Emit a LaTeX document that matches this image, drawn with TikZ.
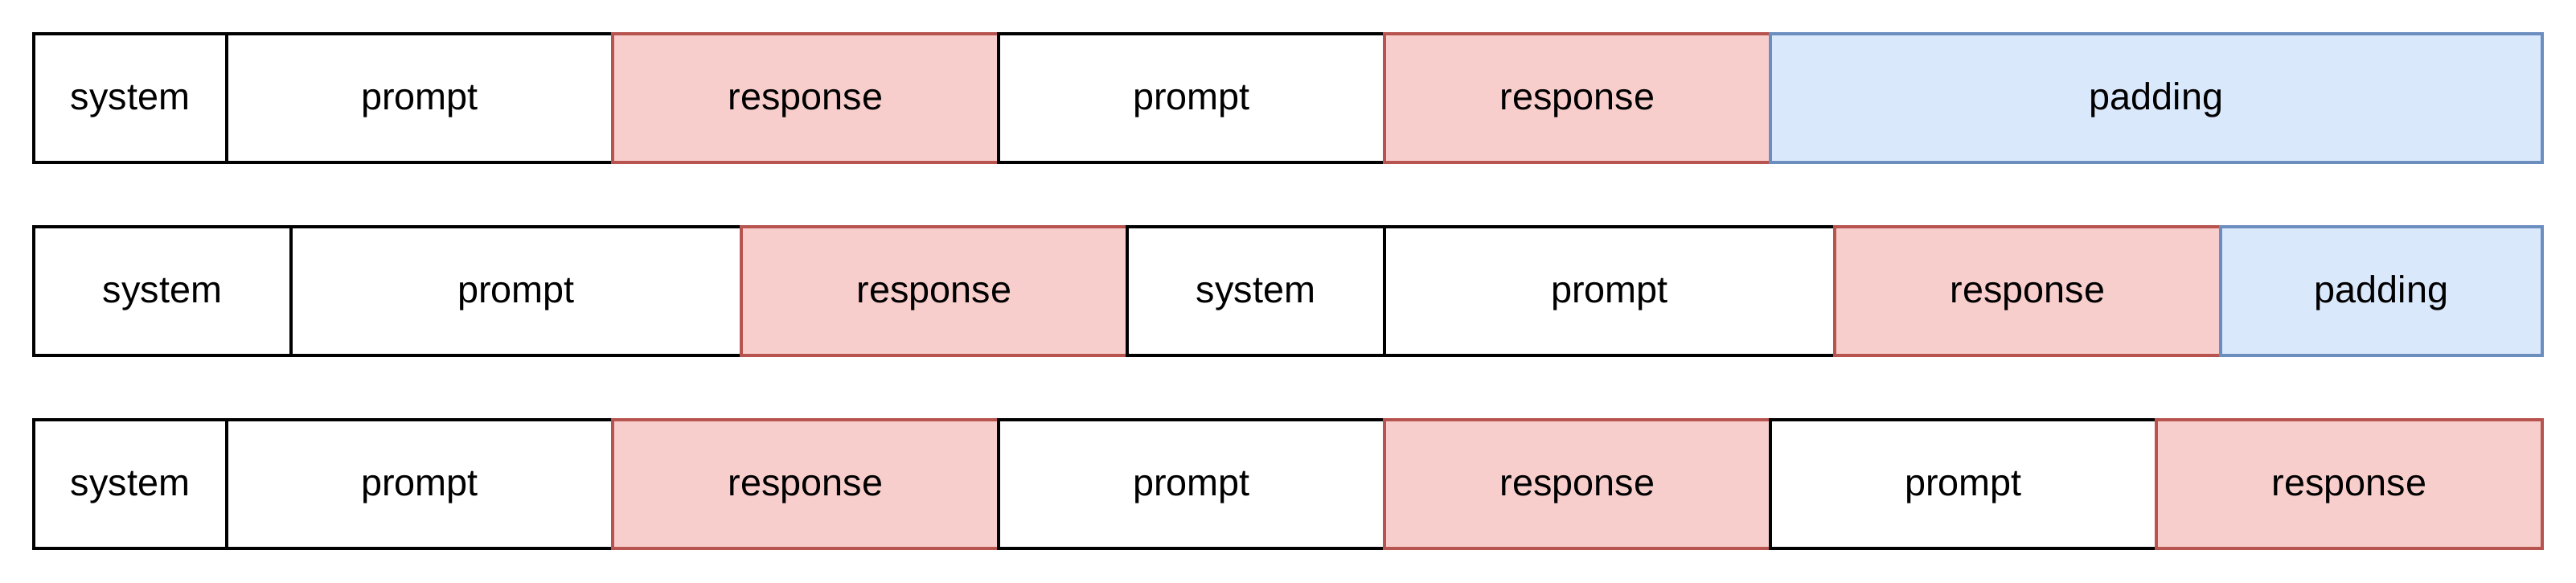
\documentclass[tikz,border=0pt]{standalone}
\usepackage{fontspec}
\setmainfont{Liberation Sans}
\definecolor{redfill}{HTML}{F8CECC}
\definecolor{redline}{HTML}{B85450}
\definecolor{bluefill}{HTML}{DAE8FC}
\definecolor{blueline}{HTML}{6C8EBF}
\begin{document}
\begin{tikzpicture}[x=1bp,y=1bp,
  seg/.style={draw=black, fill=white, line width=1.6bp, anchor=north west,
    minimum height=80bp, inner sep=0pt, outer sep=0pt,
    text height=17bp, text depth=2.4bp,
    font=\fontsize{23.4bp}{28bp}\selectfont},
  resp/.style={seg, draw=redline, fill=redfill},
  pad/.style={seg, draw=blueline, fill=bluefill}]
\useasboundingbox (0,0) rectangle (1602,-362);
% row 1
\node[seg, minimum width=120bp] (a1) at (21,-21) {system};
\node[seg, minimum width=240bp] (a2) at (141,-21) {prompt};
\node[resp, minimum width=240bp] (a3) at (381,-21) {response};
\node[seg, minimum width=240bp] (a4) at (621,-21) {prompt};
\node[resp, minimum width=240bp] (a5) at (861,-21) {response};
\node[pad, minimum width=480bp] (a6) at (1101,-21) {padding};
% row 2
\node[seg, minimum width=160bp] (b1) at (21,-141) {system};
\node[seg, minimum width=280bp] (b2) at (181,-141) {prompt};
\node[resp, minimum width=240bp] (b3) at (461,-141) {response};
\node[seg, minimum width=160bp] (b4) at (701,-141) {system};
\node[seg, minimum width=280bp] (b5) at (861,-141) {prompt};
\node[resp, minimum width=240bp] (b6) at (1141,-141) {response};
\node[pad, minimum width=200bp] (b7) at (1381,-141) {padding};
% row 3
\node[seg, minimum width=120bp] (c1) at (21,-261) {system};
\node[seg, minimum width=240bp] (c2) at (141,-261) {prompt};
\node[resp, minimum width=240bp] (c3) at (381,-261) {response};
\node[seg, minimum width=240bp] (c4) at (621,-261) {prompt};
\node[resp, minimum width=240bp] (c5) at (861,-261) {response};
\node[seg, minimum width=240bp] (c6) at (1101,-261) {prompt};
\node[resp, minimum width=240bp] (c7) at (1341,-261) {response};
\end{tikzpicture}
\end{document}
